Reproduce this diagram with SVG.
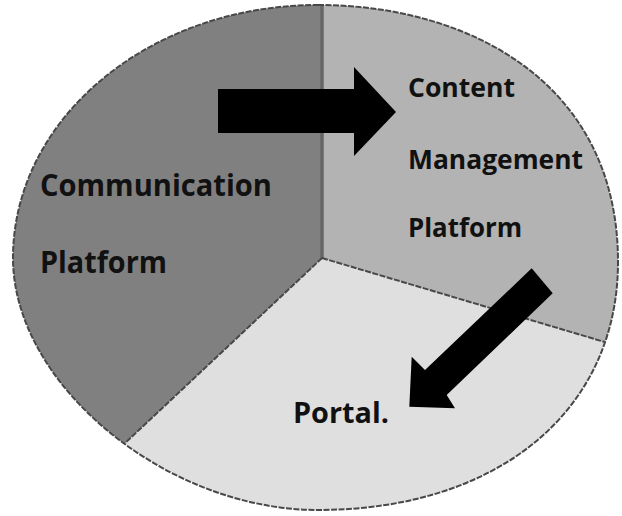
<svg xmlns="http://www.w3.org/2000/svg" width="622" height="516" viewBox="0 0 622 516">
  <style>
    .lbl { font-family: "Open Sans", "Liberation Sans", sans-serif; font-weight: 700; fill: #111111; }
    .div { stroke: #484848; stroke-width: 2; stroke-dasharray: 6 1.5; fill: none; }
    .arrow { fill: #000000; }
  </style>
  <defs>
    <path id="outline" d="M 318 5 C 468 5 618 82 618 262 C 618 410.8 498 510 318 510 C 165.5 510 13 384 13 258 C 13 118.3 149.6 5 318 5 Z"/>
    <clipPath id="pieClip">
      <use href="#outline"/>
    </clipPath>
  </defs>
  <rect width="622" height="516" fill="#ffffff"/>
  <g id="pie">
    <g clip-path="url(#pieClip)">
      <use id="sector-portal" href="#outline" fill="#dfdfdf"/>
      <polygon id="sector-communication" points="322,258 322,-5 -5,-5 -5,540 23.5,538.5" fill="#808080"/>
      <polygon id="sector-content" points="322,258 322,-5 640,-5 640,352.5" fill="#b3b3b3"/>
      <line x1="322" y1="258" x2="322" y2="-5" stroke="#666666" stroke-width="3.5"/>
      <line class="div" x1="322" y1="258" x2="640" y2="352.5"/>
      <line class="div" x1="322" y1="258" x2="23.5" y2="538.5"/>
    </g>
    <use href="#outline" class="div"/>
  </g>
  <g id="node-communication">
    <text class="lbl" x="40" y="196" font-size="31" textLength="232" lengthAdjust="spacingAndGlyphs">Communication</text>
    <text class="lbl" x="40" y="273" font-size="31" textLength="127" lengthAdjust="spacingAndGlyphs">Platform</text>
  </g>
  <g id="node-content">
    <text class="lbl" x="408" y="97" font-size="27.5" textLength="107" lengthAdjust="spacingAndGlyphs">Content</text>
    <text class="lbl" x="408" y="169" font-size="27.5" textLength="175" lengthAdjust="spacingAndGlyphs">Management</text>
    <text class="lbl" x="408" y="237" font-size="27.5" textLength="114" lengthAdjust="spacingAndGlyphs">Platform</text>
  </g>
  <g id="node-portal">
    <text class="lbl" x="293" y="423" font-size="29" textLength="96" lengthAdjust="spacingAndGlyphs">Portal.</text>
  </g>
  <g id="connectors">
    <polygon class="arrow" points="218,89 354,89 354,67 396,112 354,156 354,133 218,133"/>
    <polygon class="arrow" points="531.7,268.3 552.7,293.3 446.7,395 455,408.3 409.3,406.7 411.7,356.7 425,370"/>
  </g>
</svg>
